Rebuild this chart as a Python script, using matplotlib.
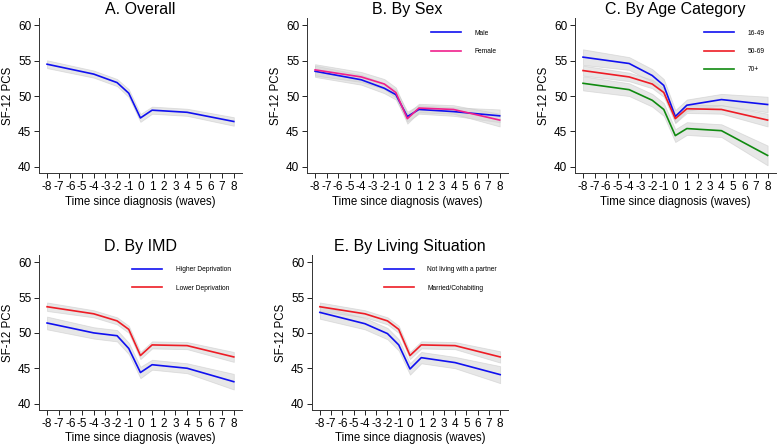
import numpy as np
import matplotlib
matplotlib.use('Agg')
from matplotlib import pyplot as plt

plt.rcParams['font.family'] = ['Liberation Sans', 'DejaVu Sans']
plt.rcParams['axes.unicode_minus'] = False

# knots of the piecewise curves (waves)
waves = [-8, -4, -2, -1, 0, 1, 4, 8]

# A. Overall
overall = [54.5, 53.1, 51.9, 50.4, 46.9, 48.0, 47.7, 46.4]
overall_ci = [0.55, 0.5, 0.5, 0.55, 0.55, 0.5, 0.5, 0.6]

# B. By Sex
male = [53.5, 52.3, 51.1, 50.2, 47.1, 48.1, 47.8, 47.2]
male_ci = [0.8, 0.7, 0.7, 0.7, 0.7, 0.6, 0.6, 0.9]
female = [53.7, 52.7, 51.7, 50.5, 46.8, 48.3, 48.1, 46.6]
female_ci = [0.8, 0.7, 0.7, 0.7, 0.7, 0.6, 0.6, 0.9]

# C. By Age Category
age_1649 = [55.5, 54.6, 52.9, 51.5, 47.1, 48.7, 49.5, 48.8]
age_1649_ci = [1.1, 0.9, 0.9, 0.9, 0.9, 0.8, 0.8, 1.1]
age_5069 = [53.6, 52.7, 51.7, 50.5, 46.8, 48.2, 48.1, 46.6]
age_5069_ci = [0.7, 0.6, 0.6, 0.6, 0.6, 0.6, 0.6, 0.9]
age_70 = [51.8, 50.9, 49.4, 48.1, 44.4, 45.4, 45.1, 41.6]
age_70_ci = [1.0, 0.9, 0.9, 0.9, 0.9, 0.9, 0.9, 1.4]

# D. By IMD
imd_high = [51.4, 50.0, 49.6, 47.8, 44.4, 45.5, 45.0, 43.1]
imd_high_ci = [0.9, 0.8, 0.8, 0.8, 0.8, 0.7, 0.7, 1.1]
imd_low = [53.7, 52.7, 51.7, 50.5, 46.8, 48.3, 48.2, 46.6]
imd_low_ci = [0.6, 0.5, 0.5, 0.5, 0.5, 0.5, 0.5, 0.7]

# E. By Living Situation
alone = [52.9, 51.3, 49.9, 48.3, 44.9, 46.5, 45.8, 44.1]
alone_ci = [0.9, 0.8, 0.8, 0.8, 0.8, 0.8, 0.8, 1.2]
partner = [53.7, 52.7, 51.7, 50.5, 46.8, 48.3, 48.2, 46.6]
partner_ci = [0.6, 0.5, 0.5, 0.5, 0.5, 0.5, 0.5, 0.8]

BLUE = '#1010f0'
RED = '#ee1c25'
PINK = '#f0208c'
GREEN = '#108a10'

panels = [
    ('A. Overall', [0.050, 0.611, 0.261, 0.348],
     [(None, overall, overall_ci, BLUE)]),
    ('B. By Sex', [0.3946, 0.611, 0.258, 0.348],
     [('Male', male, male_ci, BLUE), ('Female', female, female_ci, PINK)]),
    ('C. By Age Category', [0.739, 0.611, 0.258, 0.348],
     [('16-49', age_1649, age_1649_ci, BLUE), ('50-69', age_5069, age_5069_ci, RED),
      ('70+', age_70, age_70_ci, GREEN)]),
    ('D. By IMD', [0.050, 0.0787, 0.261, 0.348],
     [('Higher Deprivation', imd_high, imd_high_ci, BLUE),
      ('Lower Deprivation', imd_low, imd_low_ci, RED)]),
    ('E. By Living Situation', [0.401, 0.0787, 0.252, 0.348],
     [('Not living with a partner', alone, alone_ci, BLUE),
      ('Married/Cohabiting', partner, partner_ci, RED)]),
]

fig = plt.figure(figsize=(7.78, 4.45), dpi=100)
x = np.array(waves)

for title, rect, series in panels:
    ax = fig.add_axes(rect)
    # bands first, lines on top
    for label, vals, ci, col in series:
        v = np.array(vals)
        c = np.array(ci)
        ax.fill_between(x, v - c, v + c, facecolor='#d4d4d4', alpha=0.55,
                        edgecolor='#c8c8c8', linewidth=0.6, zorder=1)
    for label, vals, ci, col in series:
        ax.plot(x, vals, color=col, lw=1.2, label=label, zorder=3)

    ax.set_xlim(-8.7, 8.7)
    ax.set_ylim(39.1, 61)
    ax.set_xticks(range(-8, 9))
    ax.set_yticks([40, 45, 50, 55, 60])
    ax.set_title(title, fontsize=11.5, pad=3)
    ax.set_ylabel('SF-12 PCS', fontsize=8.3, labelpad=3)
    ax.set_xlabel('Time since diagnosis (waves)', fontsize=8.3, labelpad=2)
    ax.tick_params(labelsize=8.5, length=3.5, width=0.7, colors='#222222',
                   labelcolor='black', pad=2)
    for s in ['top', 'right']:
        ax.spines[s].set_visible(False)
    for s in ['left', 'bottom']:
        ax.spines[s].set_linewidth(0.7)
        ax.spines[s].set_color('#333333')

    if series[0][0] is not None:
        ax.legend(loc='upper right', frameon=False, fontsize=4.8,
                  handlelength=4.5, labelspacing=1.7, handletextpad=2.0,
                  borderaxespad=1.3, bbox_to_anchor=(1.0, 1.0))

fig.savefig('out.png', dpi=100)
